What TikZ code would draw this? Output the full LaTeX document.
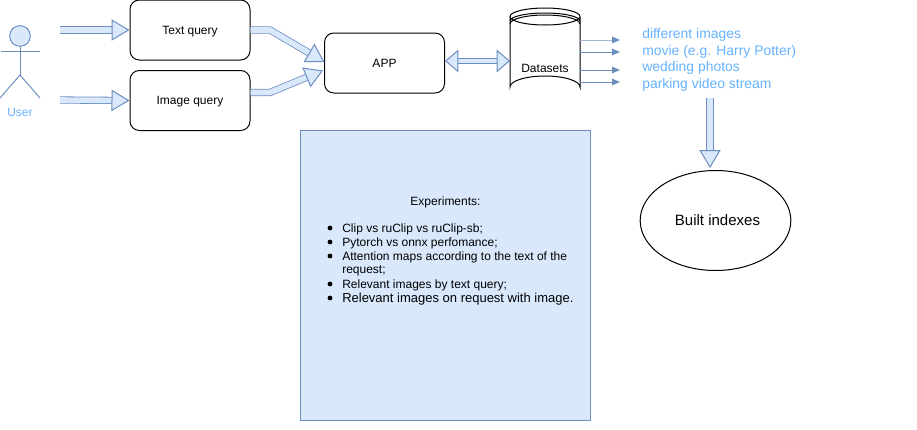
\documentclass[tikz,border=0pt]{standalone}
\usepackage{fontspec}
\setmainfont{Liberation Sans}
\usetikzlibrary{arrows.meta,shapes.geometric}
\definecolor{edgeblue}{HTML}{6C8EBF}
\definecolor{fillblue}{HTML}{DAE8FC}
\definecolor{textblue}{HTML}{66B2FF}
\tikzset{
  querybox/.style={draw,line width=0.75pt,rounded corners=7pt,minimum width=90pt,minimum height=45pt,inner sep=0pt,text depth=0pt,font=\fontsize{9}{11}\selectfont},
  blockarrow/.style={draw=edgeblue,line width=0.6pt,double=fillblue,double distance=4.2pt,line join=miter,-{Triangle[length=13.5pt,width=16pt,color=edgeblue,fill=fillblue,line width=0.75pt]}},
  blockboth/.style={draw=edgeblue,line width=0.6pt,double=fillblue,double distance=3.4pt,{Triangle[length=10pt,width=17pt,color=edgeblue,fill=fillblue,line width=0.75pt]}-{Triangle[length=10pt,width=17pt,color=edgeblue,fill=fillblue,line width=0.75pt]}},
  thinarrow/.style={draw=edgeblue,line width=0.75pt,-{Triangle[length=6pt,width=5pt,color=edgeblue]}},
  bluelabel/.style={text=textblue,anchor=base west,inner sep=0pt,font=\fontsize{10.45}{12}\selectfont},
  listline/.style={anchor=base west,inner sep=0pt,font=\fontsize{9}{11}\selectfont},
  listdot/.style={circle,fill=black,inner sep=0pt,minimum size=3.6pt}
}
\begin{document}
\begin{tikzpicture}[x=0.75pt,y=-0.75pt]
\useasboundingbox (0,0) rectangle (917,429);
% actor
\node[circle,draw=edgeblue,fill=fillblue,line width=0.75pt,minimum size=15.5pt,inner sep=0pt] (head) at (20,36) {};
\draw[edgeblue,line width=0.75pt] (head.south) -- (20,75);
\draw[edgeblue,line width=0.75pt] (1,51) -- (40,51);
\draw[edgeblue,line width=0.75pt] (0,98) -- (20,75) -- (40,98);
\node[text=textblue,font=\fontsize{9}{11}\selectfont] (user) at (20,112) {User};

\node[querybox] (textquery) at (190,30) {Text query};
\node[querybox] (imagequery) at (190,100.5) {Image query};
\node[querybox] (app) at (384.5,63) {APP};

% free ends of the input arrows
\coordinate (userone) at (60,30);
\coordinate (usertwo) at (60,100);
\coordinate (appin) at (324.5,62);
\coordinate (appintwo) at (323,70.5);
\draw[blockarrow] (userone) -- (textquery.west);
\draw[blockarrow] (usertwo) -- (imagequery.west);
\draw[blockarrow] (textquery.east) -- (270,30) -- (appin);
\draw[blockarrow] ([yshift=6pt]imagequery.east) -- (270,92.5) -- (appintwo);

% datasets cylinder
\draw[line width=0.75pt,fill=white] (510,17) -- (510,87) arc[start angle=180,end angle=360,x radius=35,y radius=11] -- (580,17);
\draw[line width=0.75pt] (545,16.5) ellipse (35 and 8.5);
\draw[line width=0.75pt] (510,21) arc[start angle=180,end angle=360,x radius=35,y radius=8];
\draw[line width=0.75pt] (510,24) arc[start angle=180,end angle=360,x radius=35,y radius=9];
\node[font=\fontsize{9}{11}\selectfont] (datasets) at (545,68) {Datasets};
\coordinate (cylleft) at (510,61);
\draw[blockboth] (app.east |- cylleft) -- (cylleft);

\coordinate (outa) at (620,40);
\draw[thinarrow,edgeblue!65] (580,40) -- (outa);
\foreach \y/\name in {52/b,70/c,82/d} {
  \coordinate (out\name) at (620,\y);
  \draw[thinarrow] (580,\y) -- (out\name);
}
\node[bluelabel] (labelone) at (642,38) {different images};
\node[bluelabel] (labeltwo) at (642,55) {movie (e.g. Harry Potter)};
\node[bluelabel] (labelthree) at (642,71) {wedding photos};
\node[bluelabel] (labelfour) at (642,88) {parking video stream};

\node[ellipse,draw,line width=0.75pt,minimum width=113pt,minimum height=75pt,inner sep=0pt,text depth=0pt,font=\fontsize{11.25}{13}\selectfont] (indexes) at (715.5,220.5) {\hspace*{3pt}Built indexes};
\coordinate (streamend) at (710,98);
\coordinate (indexesend) at (710,168);
\draw[blockarrow] (streamend) -- (indexesend);

% experiments
\node[draw=edgeblue,fill=fillblue,line width=0.75pt,minimum width=217.5pt,minimum height=217.5pt,inner sep=0pt] (experiments) at (445.5,275.5) {};
\node[font=\fontsize{9}{11}\selectfont,text depth=0pt] (title) at (445.5,201.5) {Experiments:};
\node[listline] (lineone) at (342,232) {Clip vs ruClip vs ruClip-sb;};
\node[listline] (linetwo) at (342,246) {Pytorch vs onnx perfomance;};
\node[listline] (linethree) at (342,260) {Attention maps according to the text of the};
\node[listline] (linefour) at (342,273) {request;};
\node[listline] (linefive) at (342,288) {Relevant images by text query;};
\node[listline,font=\fontsize{9.75}{11}\selectfont] (linesix) at (342,302) {Relevant images on request with image.};
\foreach \y/\name in {228/a,242/b,256/c,284/d,298/e} {
  \node[listdot] (dot\name) at (330,\y) {};
}
\end{tikzpicture}
\end{document}
